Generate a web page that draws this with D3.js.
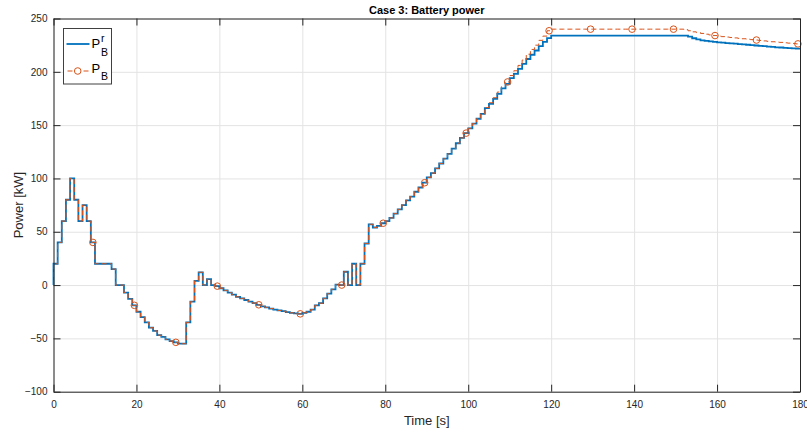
<!DOCTYPE html>
<html>
<head>
<meta charset="utf-8">
<script src="https://cdn.jsdelivr.net/npm/d3@7"></script>
<style>
	body { margin: 0; background: #fff; }
	svg text { font-family: "Liberation Sans", Arial, Helvetica, sans-serif; fill: #262626; }
	.grid line { stroke: #e3e3e3; stroke-width: 1; }
	.grid path { display: none; }
	.axis path, .axis line { stroke: #262626; stroke-width: 1; }
	.axis text { font-size: 10px; }
</style>
</head>
<body>
<div id="chart"></div>
<script>
// battery power reference P_B^r, one value per second (t = 0..179)
const powerRef = [
	20, 40, 60, 80, 100, 80, 60, 75, 60, 40,
	20, 20, 20, 20, 15, 0, 0, -7, -13, -19,
	-25, -30, -35, -40, -43, -47, -48.5, -51, -52.5, -53.7,
	-55, -55, -35, -15.5, 4, 12, 0, 5.5, 0, -1,
	-3, -5, -7, -9, -11, -12.5, -14, -15.5, -17, -18.5,
	-20, -21, -22, -23, -23.8, -24.5, -25.3, -26, -26.5, -27,
	-26, -25, -23, -19, -17, -12.5, -8, -4, 0.5, 0,
	12.5, 0, 20, 0, 20, 39, 57, 54, 55.5, 58,
	60, 63, 67, 71, 75, 79.5, 83, 87.5, 91.5, 96,
	101, 105, 109.5, 114, 118.5, 123, 128, 133, 138, 142.5,
	147, 151.5, 156, 160.6, 166, 170, 174.7, 179.4, 184.5, 188.7,
	194, 198, 202.7, 207.4, 212, 216, 220, 224, 228, 231.6,
	234, 234, 234, 234, 234, 234, 234, 234, 234, 234,
	234, 234, 234, 234, 234, 234, 234, 234, 234, 234,
	234, 234, 234, 234, 234, 234, 234, 234, 234, 234,
	234, 234, 234, 233, 231.5, 230.5, 229.5, 229, 228.5, 228,
	227.7, 227.4, 227, 226.7, 226.4, 226, 225.7, 225.4, 225, 224.7,
	224.4, 224, 223.7, 223.4, 223, 222.8, 222.5, 222.3, 222, 221.8
];
const startValue = 0;

// actual battery power P_B: same as the reference up to t = 103, then these values
const powerBTail = [
	166.5, 171, 175.7, 181, 186, 190.5, 196.5, 201, 206, 211,
	216.5, 221, 225, 229.5, 233.5, 238.5,
	240, 240, 240, 240, 240, 240, 240, 240, 240, 240,
	240, 240, 240, 240, 240, 240, 240, 240, 240, 240,
	240, 240, 240, 240, 240, 240, 240, 240, 240, 240,
	240, 240,
	239.5, 238.5, 237.5, 236.8, 236, 235.3, 234.6, 234, 233.5, 233,
	232.6, 232.2, 231.8, 231.4, 231, 230.6, 230.2, 229.8, 229.4, 229,
	228.6, 228.2, 227.9, 227.6, 227.2, 226.9, 226.6, 226.2
];
const powerB = powerRef.slice(0, 104).concat(powerBTail);

// circle markers on P_B
const markerTimes = [9.5, 19.5, 29.5, 39.5, 49.5, 59.5, 69.5, 79.5, 89.5, 99.5,
	109.5, 119.5, 129.5, 139.5, 149.5, 159.5, 169.5, 179.5];

const xTicks = [0, 20, 40, 60, 80, 100, 120, 140, 160, 180];
const yTicks = [-100, -50, 0, 50, 100, 150, 200, 250];

const blue = "#0072BD", orange = "#D95319";

let W = 807, H = 434;
let margin = {top: 18.5, right: 7, bottom: 42.3, left: 53.5},
	width = W - margin.left - margin.right,
	height = H - margin.top - margin.bottom;

let x = d3.scaleLinear().domain([0, 180]).range([0, width]);
let y = d3.scaleLinear().domain([-100, 250]).range([height, 0]);

let svg = d3.select("#chart").append("svg")
	.attr("width", W)
	.attr("height", H)
	.append("g")
	.attr("transform", "translate(" + margin.left + "," + margin.top + ")");

// grid
svg.append("g")
	.attr("class", "grid")
	.attr("transform", "translate(0," + height + ")")
	.call(d3.axisBottom(x).tickValues(xTicks).tickSize(-height).tickFormat(""));
svg.append("g")
	.attr("class", "grid")
	.call(d3.axisLeft(y).tickValues(yTicks).tickSize(-width).tickFormat(""));

// stairs: value i holds on [i, i+1)
function toSteps(values) {
	let pts = [[0, startValue]];
	values.forEach(function (v, i) { pts.push([i, v]); });
	pts.push([values.length, values[values.length - 1]]);
	return pts;
}

let line = d3.line()
	.x(function (d) { return x(d[0]); })
	.y(function (d) { return y(d[1]); })
	.curve(d3.curveStepAfter);

svg.append("path")
	.datum(toSteps(powerRef))
	.attr("fill", "none")
	.attr("stroke", blue)
	.attr("stroke-width", 1.8)
	.attr("d", line);

svg.append("path")
	.datum(toSteps(powerB))
	.attr("fill", "none")
	.attr("stroke", orange)
	.attr("stroke-width", 1)
	.attr("stroke-dasharray", "5,3")
	.attr("d", line);

svg.selectAll(".marker")
	.data(markerTimes)
	.enter().append("circle")
	.attr("class", "marker")
	.attr("cx", function (d) { return x(d); })
	.attr("cy", function (d) { return y(powerB[Math.floor(d)]); })
	.attr("r", 3.3)
	.attr("fill", "none")
	.attr("stroke", orange)
	.attr("stroke-width", 1);

// axes with inward ticks, mirrored on top / right
svg.append("g")
	.attr("class", "axis")
	.attr("transform", "translate(0," + height + ")")
	.call(d3.axisBottom(x).tickValues(xTicks).tickSizeInner(-7).tickSizeOuter(0).tickPadding(9));
svg.append("g")
	.attr("class", "axis")
	.call(d3.axisTop(x).tickValues(xTicks).tickSizeInner(-7).tickSizeOuter(0).tickFormat(""));
svg.append("g")
	.attr("class", "axis")
	.call(d3.axisLeft(y).tickValues(yTicks).tickSizeInner(-7).tickSizeOuter(0).tickPadding(6));
svg.append("g")
	.attr("class", "axis")
	.attr("transform", "translate(" + width + ",0)")
	.call(d3.axisRight(y).tickValues(yTicks).tickSizeInner(-7).tickSizeOuter(0).tickFormat(""));

// labels
svg.append("text")
	.attr("x", width / 2)
	.attr("y", -4.5)
	.attr("text-anchor", "middle")
	.style("font-size", "11px")
	.style("font-weight", "bold")
	.style("fill", "#000")
	.text("Case 3: Battery power");

svg.append("text")
	.attr("x", width / 2)
	.attr("y", height + 33)
	.attr("text-anchor", "middle")
	.style("font-size", "13px")
	.text("Time [s]");

svg.append("text")
	.attr("transform", "translate(" + (-31) + "," + (height / 2) + ") rotate(-90)")
	.attr("text-anchor", "middle")
	.style("font-size", "13px")
	.text("Power [kW]");

// legend
let lg = svg.append("g").attr("transform", "translate(" + (63.5 - margin.left) + "," + (28.5 - margin.top) + ")");
lg.append("rect")
	.attr("width", 48)
	.attr("height", 55.5)
	.attr("fill", "#fff")
	.attr("stroke", "#404040")
	.attr("stroke-width", 1);

lg.append("line")
	.attr("x1", 3).attr("x2", 26).attr("y1", 15.5).attr("y2", 15.5)
	.attr("stroke", blue).attr("stroke-width", 1.8);
lg.append("line")
	.attr("x1", 3).attr("x2", 26).attr("y1", 42.5).attr("y2", 42.5)
	.attr("stroke", orange).attr("stroke-width", 1).attr("stroke-dasharray", "5,3").attr("stroke-dashoffset", -1);
lg.append("circle")
	.attr("cx", 14.2).attr("cy", 42.5).attr("r", 3.3)
	.attr("fill", "#fff").attr("stroke", orange).attr("stroke-width", 1);

function legendLabel(yBase, sup) {
	lg.append("text").attr("x", 28).attr("y", yBase).style("font-size", "13px").style("fill", "#000").text("P");
	if (sup) {
		lg.append("text").attr("x", 37.5).attr("y", yBase - 6.3).style("font-size", "10.5px").style("fill", "#000").text(sup);
	}
	lg.append("text").attr("x", 37.5).attr("y", yBase + 7.7).style("font-size", "10.5px").style("fill", "#000").text("B");
}
legendLabel(19.8, "r");
legendLabel(44.2, null);
</script>
</body>
</html>
